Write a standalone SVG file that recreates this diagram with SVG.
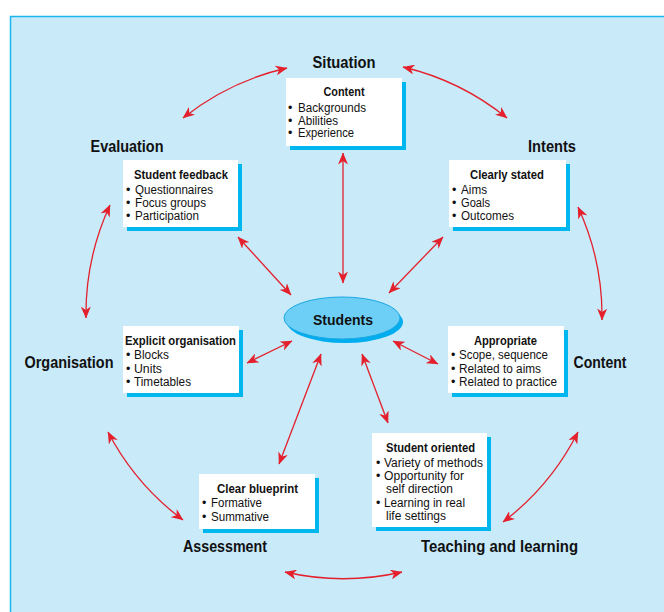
<svg xmlns="http://www.w3.org/2000/svg" width="664" height="612" viewBox="0 0 664 612">
<defs>
<style>
text{font-family:"Liberation Sans Narrow","Liberation Sans",Arial,sans-serif;fill:#111}
.lab{font-size:16.5px;font-weight:bold;text-anchor:middle}
.ttl{font-size:12.5px;font-weight:bold;text-anchor:middle}
.itm{font-size:12.5px}
.box{fill:#fff}
.shd{fill:#00b6ef}
.arr{fill:none;stroke:#e4202c;stroke-width:1.3;marker-start:url(#ah);marker-end:url(#ah)}
</style>
<marker id="ah" viewBox="0 0 12 10" refX="11.5" refY="5" markerWidth="12" markerHeight="10" markerUnits="userSpaceOnUse" orient="auto-start-reverse">
<path d="M0,0 L12,5 L0,10 L3.5,5 z" fill="#e4202c"/>
</marker>
</defs>
<rect x="10.5" y="16.5" width="660" height="600" fill="#c8eaf9" stroke="#1ab8ee" stroke-width="1.5"/>

<g id="connectors">
<path class="arr" d="M183,118 A260,260 0 0 1 287,68"/>
<path class="arr" d="M403,67 A260,260 0 0 1 507,118"/>
<path class="arr" d="M578,207 A260,260 0 0 1 602,320"/>
<path class="arr" d="M578,432 A260,260 0 0 1 503,522"/>
<path class="arr" d="M402,572 A260,260 0 0 1 285,572"/>
<path class="arr" d="M183,520 A260,260 0 0 1 108,432"/>
<path class="arr" d="M86,318 A260,260 0 0 1 110,205"/>
<path class="arr" d="M343,153 L343,283"/>
<path class="arr" d="M238,237 L291,295"/>
<path class="arr" d="M443,237 L389,293"/>
<path class="arr" d="M247,363 L292,341"/>
<path class="arr" d="M393,341 L438,364"/>
<path class="arr" d="M279,464 L321,354"/>
<path class="arr" d="M362,354 L388,423"/>
</g>

<g id="situation"><text class="lab" x="344" y="68" textLength="63" lengthAdjust="spacingAndGlyphs">Situation</text></g>
<g id="intents"><text class="lab" x="552" y="152" textLength="48" lengthAdjust="spacingAndGlyphs">Intents</text></g>
<g id="evaluation"><text class="lab" x="127" y="152" textLength="73" lengthAdjust="spacingAndGlyphs">Evaluation</text></g>
<g id="organisation"><text class="lab" x="69" y="368" textLength="89" lengthAdjust="spacingAndGlyphs">Organisation</text></g>
<g id="content-label"><text class="lab" x="600" y="368" textLength="53" lengthAdjust="spacingAndGlyphs">Content</text></g>
<g id="assessment"><text class="lab" x="225" y="552" textLength="84" lengthAdjust="spacingAndGlyphs">Assessment</text></g>
<g id="teaching"><text class="lab" x="499.5" y="552" textLength="157" lengthAdjust="spacingAndGlyphs">Teaching and learning</text></g>

<g id="students">
<ellipse cx="345" cy="322" rx="58" ry="21" fill="#00aeef"/>
<ellipse cx="342" cy="318" rx="58" ry="21" fill="#6dcff6" stroke="#1aa8e2" stroke-width="1"/>
<text x="343" y="325" font-size="15" font-weight="bold" text-anchor="middle" textLength="60" lengthAdjust="spacingAndGlyphs">Students</text>
</g>

<g id="box-content">
<rect class="shd" x="290" y="82" width="116" height="68"/>
<rect class="box" x="286" y="78" width="116" height="68"/>
<text class="ttl" x="344" y="96" textLength="41" lengthAdjust="spacingAndGlyphs">Content</text>
<text class="itm" x="288" y="112">•</text><text class="itm" x="298" y="112" textLength="68" lengthAdjust="spacingAndGlyphs">Backgrounds</text>
<text class="itm" x="288" y="124.5">•</text><text class="itm" x="298" y="124.5" textLength="40" lengthAdjust="spacingAndGlyphs">Abilities</text>
<text class="itm" x="288" y="137">•</text><text class="itm" x="298" y="137" textLength="56" lengthAdjust="spacingAndGlyphs">Experience</text>
</g>

<g id="box-feedback">
<rect class="shd" x="127" y="164" width="115" height="67"/>
<rect class="box" x="123" y="160" width="115" height="67"/>
<text class="ttl" x="181" y="178.5" textLength="94" lengthAdjust="spacingAndGlyphs">Student feedback</text>
<text class="itm" x="126" y="193.5">•</text><text class="itm" x="135" y="193.5" textLength="78" lengthAdjust="spacingAndGlyphs">Questionnaires</text>
<text class="itm" x="126" y="207">•</text><text class="itm" x="135" y="207" textLength="71" lengthAdjust="spacingAndGlyphs">Focus groups</text>
<text class="itm" x="126" y="220">•</text><text class="itm" x="135" y="220" textLength="64" lengthAdjust="spacingAndGlyphs">Participation</text>
</g>

<g id="box-clearly">
<rect class="shd" x="453" y="164" width="117" height="67"/>
<rect class="box" x="449" y="160" width="117" height="67"/>
<text class="ttl" x="507" y="178.5" textLength="74" lengthAdjust="spacingAndGlyphs">Clearly stated</text>
<text class="itm" x="452" y="193.5">•</text><text class="itm" x="461" y="193.5" textLength="26" lengthAdjust="spacingAndGlyphs">Aims</text>
<text class="itm" x="452" y="207">•</text><text class="itm" x="461" y="207" textLength="29" lengthAdjust="spacingAndGlyphs">Goals</text>
<text class="itm" x="452" y="220">•</text><text class="itm" x="461" y="220" textLength="53" lengthAdjust="spacingAndGlyphs">Outcomes</text>
</g>

<g id="box-explicit">
<rect class="shd" x="127" y="330" width="116" height="67"/>
<rect class="box" x="123" y="326" width="116" height="67"/>
<text class="ttl" x="180.5" y="344.5" textLength="111" lengthAdjust="spacingAndGlyphs">Explicit organisation</text>
<text class="itm" x="126" y="359">•</text><text class="itm" x="134" y="359" textLength="35" lengthAdjust="spacingAndGlyphs">Blocks</text>
<text class="itm" x="126" y="372.5">•</text><text class="itm" x="134" y="372.5" textLength="28" lengthAdjust="spacingAndGlyphs">Units</text>
<text class="itm" x="126" y="386">•</text><text class="itm" x="134" y="386" textLength="57" lengthAdjust="spacingAndGlyphs">Timetables</text>
</g>

<g id="box-appropriate">
<rect class="shd" x="452" y="330" width="116" height="67"/>
<rect class="box" x="448" y="326" width="116" height="67"/>
<text class="ttl" x="505.5" y="345" textLength="63" lengthAdjust="spacingAndGlyphs">Appropriate</text>
<text class="itm" x="451" y="359">•</text><text class="itm" x="459" y="359" textLength="89" lengthAdjust="spacingAndGlyphs">Scope, sequence</text>
<text class="itm" x="451" y="372.5">•</text><text class="itm" x="459" y="372.5" textLength="82" lengthAdjust="spacingAndGlyphs">Related to aims</text>
<text class="itm" x="451" y="385.5">•</text><text class="itm" x="459" y="385.5" textLength="98" lengthAdjust="spacingAndGlyphs">Related to practice</text>
</g>

<g id="box-blueprint">
<rect class="shd" x="203" y="478" width="116" height="55"/>
<rect class="box" x="199" y="474" width="116" height="55"/>
<text class="ttl" x="257.5" y="492.5" textLength="81" lengthAdjust="spacingAndGlyphs">Clear blueprint</text>
<text class="itm" x="202" y="507">•</text><text class="itm" x="211" y="507" textLength="51" lengthAdjust="spacingAndGlyphs">Formative</text>
<text class="itm" x="202" y="521">•</text><text class="itm" x="211" y="521" textLength="58" lengthAdjust="spacingAndGlyphs">Summative</text>
</g>

<g id="box-oriented">
<rect class="shd" x="376" y="437" width="115" height="94"/>
<rect class="box" x="372" y="433" width="115" height="94"/>
<text class="ttl" x="430.5" y="451.5" textLength="89" lengthAdjust="spacingAndGlyphs">Student oriented</text>
<text class="itm" x="376" y="467">•</text><text class="itm" x="384" y="467" textLength="99" lengthAdjust="spacingAndGlyphs">Variety of methods</text>
<text class="itm" x="376" y="480">•</text><text class="itm" x="384" y="480" textLength="80" lengthAdjust="spacingAndGlyphs">Opportunity for</text>
<text class="itm" x="386" y="493" textLength="67" lengthAdjust="spacingAndGlyphs">self direction</text>
<text class="itm" x="376" y="506.5">•</text><text class="itm" x="384" y="506.5" textLength="81" lengthAdjust="spacingAndGlyphs">Learning in real</text>
<text class="itm" x="386" y="519.5" textLength="60" lengthAdjust="spacingAndGlyphs">life settings</text>
</g>
</svg>
